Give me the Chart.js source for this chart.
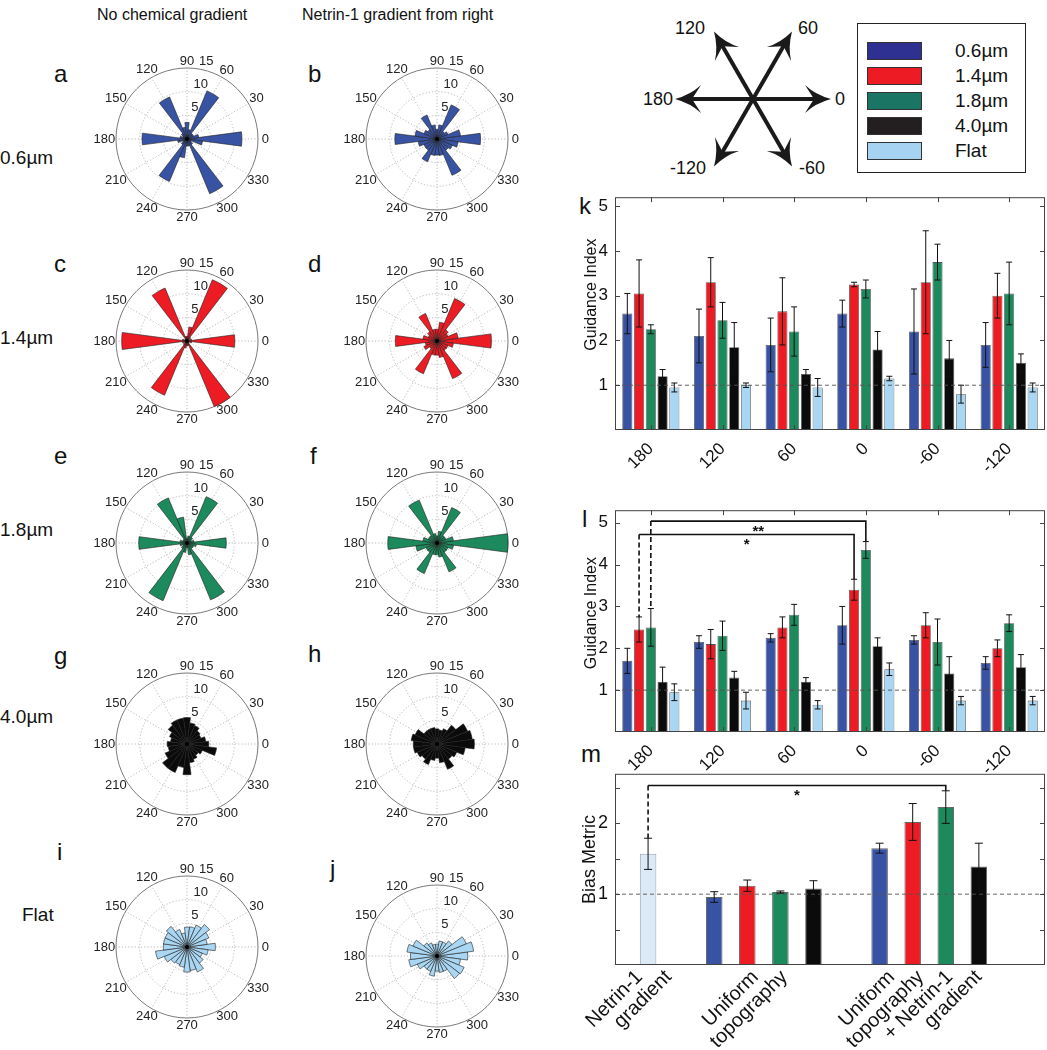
<!DOCTYPE html>
<html><head><meta charset="utf-8">
<script src="https://cdn.jsdelivr.net/npm/chart.js@4.4.1/dist/chart.umd.min.js"></script>
<style>
html,body{margin:0;padding:0;background:#fff;}
#wrap{position:relative;width:1047px;height:1050px;overflow:hidden;font-family:"Liberation Sans",Arial,sans-serif;color:#111;}
.abs{position:absolute;}
.lbl{position:absolute;white-space:nowrap;}
.panel{font-size:24px;}
.row{font-size:19px;}
canvas{position:absolute;}
.legend{position:absolute;left:857px;top:23px;width:169px;height:150px;border:1.5px solid #222;box-sizing:border-box;}
.sw{position:absolute;left:9px;width:55px;height:18px;border:1px solid #333;box-sizing:border-box;}
.lt{position:absolute;left:97px;font-size:19px;line-height:20px;}
</style></head>
<body><div id="wrap">
<div class="lbl" style="left:97px;top:6px;font-size:16px;">No chemical gradient</div>
<div class="lbl" style="left:302px;top:6px;font-size:16px;">Netrin-1 gradient from right</div>
<div class="lbl panel" style="left:54px;top:60px;">a</div>
<div class="lbl panel" style="left:308px;top:60px;">b</div>
<div class="lbl panel" style="left:54px;top:250px;">c</div>
<div class="lbl panel" style="left:308px;top:250px;">d</div>
<div class="lbl panel" style="left:54px;top:442px;">e</div>
<div class="lbl panel" style="left:310px;top:442px;">f</div>
<div class="lbl panel" style="left:54px;top:642px;">g</div>
<div class="lbl panel" style="left:308px;top:640px;">h</div>
<div class="lbl panel" style="left:57px;top:838px;">i</div>
<div class="lbl panel" style="left:330px;top:855px;">j</div>
<div class="lbl panel" style="left:579px;top:192px;">k</div>
<div class="lbl panel" style="left:582px;top:505px;">l</div>
<div class="lbl panel" style="left:581px;top:740px;">m</div>
<div class="lbl row" style="left:0px;top:147px;">0.6µm</div>
<div class="lbl row" style="left:0px;top:327px;">1.4µm</div>
<div class="lbl row" style="left:0px;top:519px;">1.8µm</div>
<div class="lbl row" style="left:0px;top:706px;">4.0µm</div>
<div class="lbl row" style="left:22px;top:904px;">Flat</div>

<svg class="abs" style="left:640px;top:0px;" width="215" height="200" viewBox="640 0 215 200" id="arrows"></svg>

<div class="legend">
 <div class="sw" style="top:18px;background:#2e3192"></div><div class="lt" style="top:17px">0.6µm</div>
 <div class="sw" style="top:43px;background:#ed1c24"></div><div class="lt" style="top:42px">1.4µm</div>
 <div class="sw" style="top:68px;background:#1b7565"></div><div class="lt" style="top:67px">1.8µm</div>
 <div class="sw" style="top:93px;background:#231f20"></div><div class="lt" style="top:92px">4.0µm</div>
 <div class="sw" style="top:118px;background:#a6d3f1"></div><div class="lt" style="top:117px">Flat</div>
</div>
</div>
<script>
// ---------------- DATA ----------------
// Rose histograms: counts per 15° bin, bin centres at 0,15,...,345 degrees (counter-clockwise from east)
const roseBins = [0,15,30,45,60,75,90,105,120,135,150,165,180,195,210,225,240,255,270,285,300,315,330,345];
const roseA = [11.6,2.5,1.5,1.5,11,2,3.5,2.5,9.6,1.5,1,1.5,9.5,2,1,1.5,9.7,4,1.5,1.5,12.5,1.5,1,3.3];
const roseB = [9.2,5,2.5,2,7.8,3,2,3,5.5,2.5,3,4.7,8.9,4,3,3,5.2,3.5,3.4,3.5,8.3,3,3.5,4.5];
const roseC = [10.1,1,0.5,1,14,3,1,1,12.1,0.5,0.5,1,13.8,1,0.5,1,12.4,1.5,1,1,15,0.5,0.5,1];
const roseD = [11.5,4.5,2.5,3,9.7,4,2.5,2.5,6.3,2.5,2,3,8.8,2.5,3,2,7.5,3,3,3.5,8.6,2.5,2.5,3.5];
const roseE = [8.3,1.5,1,1.5,10.6,1.5,1,5.5,10.3,1,1,1.5,10.2,1.5,1,1.5,13.2,2,1,2.5,13,1.5,1.5,2];
const roseF = [15,3.5,2,2,8.1,2.5,1.5,2,9.8,2,2,3,10.4,4.5,2.5,2.5,7,2.5,2.5,3,6.6,2.5,2.5,3.5];
const roseG = [4.6,4,3.2,3.5,4.2,4.5,5.6,5.5,5.5,5,4,3.5,4.2,4,5,6.5,6.5,5,6.5,4,3.5,3,3.5,6.3];
const roseH = [7.9,7.5,7,5,3.5,3,3.2,3.5,3.5,3.5,5,5.5,5,5,4.5,4,4.7,3.5,3,4,5.8,4,4.5,6];
const roseI = [6,4.3,5,6,5,4.3,4.2,3,4,5.5,5,5,5,6.7,5.2,4.3,4,4.3,5.3,5,5.7,4.3,3.5,4.5];
const roseJ = [6.5,7.8,6.7,4,3.2,3.2,2.5,2.5,3,3.5,5.5,6.4,5.6,6,4.5,3.5,3.5,4.3,3.2,3.5,3.5,6,6.2,5];
const roseAngleLabels = [0,30,60,90,120,150,180,210,240,270,300,330];
const roseRadialTicks = [5,10,15];
const roseMax = 15;

// Guidance index bar charts
const directions = ['180','120','60','0','-60','-120'];
const seriesNames = ['0.6µm','1.4µm','1.8µm','4.0µm','Flat'];
const kBlue  = [2.6,2.1,1.9,2.6,2.2,1.9];     const kBlueErr  = [0.45,0.6,0.6,0.3,0.95,0.5];
const kRed   = [3.05,3.3,2.65,3.25,3.3,3.0];  const kRedErr   = [0.75,0.55,0.75,0.05,1.15,0.5];
const kGreen = [2.25,2.45,2.2,3.15,3.75,3.05];const kGreenErr = [0.1,0.4,0.55,0.2,0.4,0.7];
const kBlack = [1.2,1.85,1.25,1.8,1.6,1.5];   const kBlackErr = [0.15,0.55,0.1,0.4,0.4,0.2];
const kFlat  = [0.95,1.0,0.95,1.15,0.8,0.95]; const kFlatErr  = [0.1,0.05,0.2,0.05,0.2,0.1];

const lBlue  = [1.7,2.15,2.25,2.55,2.2,1.65]; const lBlueErr  = [0.3,0.15,0.1,0.45,0.1,0.15];
const lRed   = [2.45,2.1,2.5,3.4,2.55,2.0];   const lRedErr   = [0.3,0.35,0.25,0.25,0.3,0.2];
const lGreen = [2.5,2.3,2.8,4.35,2.15,2.6];   const lGreenErr = [0.45,0.35,0.25,0.2,0.55,0.2];
const lBlack = [1.2,1.3,1.2,2.05,1.4,1.55];   const lBlackErr = [0.35,0.15,0.1,0.2,0.4,0.3];
const lFlat  = [0.95,0.75,0.65,1.5,0.75,0.75];const lFlatErr  = [0.2,0.2,0.1,0.15,0.1,0.1];

// Bias metric
const mPos    = [1,3,4,5,6,8,9,10,11];
const mValues = [1.57,0.96,1.12,1.03,1.08,1.65,2.02,2.23,1.39];
const mErrors = [0.22,0.075,0.08,0.015,0.11,0.07,0.26,0.23,0.33];
const mGroupTicks = [1,4.5,9.5];
const mGroupLabels = [['Netrin-1','gradient'],['Uniform','topography'],['Uniform','topography','+ Netrin-1','gradient']];

// ---------------- STYLE ----------------
const FONT = '"Liberation Sans", Arial, sans-serif';
const C_BLUE='#3953a4', C_RED='#ed1c24', C_GREEN='#1c8a5c', C_BLACK='#0b0b0b', C_FLAT='#a9d6f2', C_NETRIN='#dce9f6';
const seriesColors = [C_BLUE,C_RED,C_GREEN,C_BLACK,C_FLAT];

Chart.defaults.font.family = FONT;
Chart.defaults.color = '#111';

function mkCanvas(left, top, w, h){
  const c = document.createElement('canvas');
  c.width = w; c.height = h;
  c.style.left = left+'px'; c.style.top = top+'px';
  c.style.width = w+'px'; c.style.height = h+'px';
  document.getElementById('wrap').appendChild(c);
  return c;
}

// ---------------- ROSE PLOTS ----------------
const roseGrid = {
  id:'roseGrid',
  beforeDatasetsDraw(chart){
    const s = chart.scales.r, c = chart.ctx, cx = s.xCenter, cy = s.yCenter;
    const R = s.getDistanceFromCenterForValue(roseMax);
    c.save();
    c.strokeStyle = '#a8a8a8'; c.lineWidth = 0.8; c.setLineDash([1.2,2]);
    for (const a of roseAngleLabels){
      const t = a*Math.PI/180;
      c.beginPath(); c.moveTo(cx,cy); c.lineTo(cx+R*Math.cos(t), cy-R*Math.sin(t)); c.stroke();
    }
    for (const v of roseRadialTicks){
      if (v===roseMax) continue;
      c.beginPath(); c.arc(cx,cy,s.getDistanceFromCenterForValue(v),0,2*Math.PI); c.stroke();
    }
    c.setLineDash([]); c.strokeStyle='#7a7a7a'; c.lineWidth=1;
    c.beginPath(); c.arc(cx,cy,R,0,2*Math.PI); c.stroke();
    c.restore();
  },
  afterDatasetsDraw(chart){
    const s = chart.scales.r, c = chart.ctx, cx = s.xCenter, cy = s.yCenter;
    const R = s.getDistanceFromCenterForValue(roseMax);
    c.save();
    c.fillStyle = '#222'; c.font = '13px '+FONT; c.textAlign='center'; c.textBaseline='middle';
    for (const a of roseAngleLabels){
      const t = a*Math.PI/180, txt = String(a);
      const w = c.measureText(txt).width;
      const rr = R + 7 + Math.abs(Math.cos(t))*Math.max(0, w/2-3)*0.6;
      c.fillText(txt, cx+rr*Math.cos(t), cy-rr*Math.sin(t));
    }
    const ta = 76*Math.PI/180;
    for (const v of roseRadialTicks){
      const rr = s.getDistanceFromCenterForValue(v) + 9;
      c.fillText(String(v), cx+rr*Math.cos(ta), cy-rr*Math.sin(ta));
    }
    c.fillStyle='#000'; c.beginPath(); c.arc(cx,cy,2,0,2*Math.PI); c.fill();
    c.restore();
  }
};

function makeRose(cx, cy, values, color){
  const n = values.length;
  const cw = []; for (let i=0;i<n;i++) cw.push(values[(n-i)%n]);
  const labels = []; for (let i=0;i<n;i++) labels.push(String(roseBins[(n-i)%n]));
  const cv = mkCanvas(cx-100, cy-100, 200, 200);
  new Chart(cv, {
    type:'polarArea',
    data:{labels, datasets:[{data:cw, backgroundColor:color, borderColor:'#1e1e1e', borderWidth:0.6}]},
    options:{
      responsive:false, animation:false, events:[],
      layout:{padding:29},
      plugins:{legend:{display:false}, tooltip:{enabled:false}},
      scales:{r:{min:0,max:roseMax,startAngle:82.5,
        ticks:{display:false}, grid:{display:false}, angleLines:{display:false}, pointLabels:{display:false}}}
    },
    plugins:[roseGrid]
  });
}
makeRose(187,139,roseA,C_BLUE);
makeRose(437,139,roseB,C_BLUE);
makeRose(187,341,roseC,C_RED);
makeRose(437,341,roseD,C_RED);
makeRose(187,543,roseE,C_GREEN);
makeRose(437,543,roseF,C_GREEN);
makeRose(187,744,roseG,C_BLACK);
makeRose(437,744,roseH,C_BLACK);
makeRose(187,947,roseI,C_FLAT);
makeRose(437,956,roseJ,C_FLAT);

// ---------------- BAR CHARTS ----------------
function valOf(d){ return (typeof d === 'object') ? d.y : d; }
const matFrame = {
  id:'matFrame',
  afterDatasetsDraw(chart, args, opts){
    const c = chart.ctx, a = chart.chartArea, ys = chart.scales.y, xs = chart.scales.x;
    c.save();
    // error bars
    chart.data.datasets.forEach((ds, di)=>{
      if (!ds.errors) return;
      const meta = chart.getDatasetMeta(di);
      meta.data.forEach((el, i)=>{
        const v = valOf(ds.data[i]), e = ds.errors[i];
        const y1 = ys.getPixelForValue(v+e), y2 = ys.getPixelForValue(v-e);
        const cap = opts.cap || 3;
        c.strokeStyle = '#111'; c.lineWidth = 1;
        c.beginPath();
        c.moveTo(el.x, y1); c.lineTo(el.x, y2);
        c.moveTo(el.x-cap, y1); c.lineTo(el.x+cap, y1);
        c.moveTo(el.x-cap, y2); c.lineTo(el.x+cap, y2);
        c.stroke();
      });
    });
    // reference dashed line at 1
    const y1 = ys.getPixelForValue(1);
    c.strokeStyle = '#555'; c.lineWidth = 0.9; c.setLineDash([4,3]);
    c.beginPath(); c.moveTo(a.left, y1); c.lineTo(a.right, y1); c.stroke();
    c.setLineDash([]);
    // significance brackets
    (opts.brackets||[]).forEach(b=>{
      const e1 = chart.getDatasetMeta(b.from[0]).data[b.from[1]];
      const e2 = chart.getDatasetMeta(b.to[0]).data[b.to[1]];
      const d1 = chart.data.datasets[b.from[0]], d2 = chart.data.datasets[b.to[0]];
      const v1 = valOf(d1.data[b.from[1]]) + d1.errors[b.from[1]];
      const v2 = valOf(d2.data[b.to[1]]) + d2.errors[b.to[1]];
      const yb = ys.getPixelForValue(b.level);
      c.strokeStyle='#111'; c.lineWidth=1.6;
      c.beginPath(); c.moveTo(e1.x, yb); c.lineTo(e2.x, yb); c.lineTo(e2.x, ys.getPixelForValue(v2)); c.stroke();
      c.setLineDash([5,3]);
      c.beginPath(); c.moveTo(e1.x, yb); c.lineTo(e1.x, ys.getPixelForValue(v1)); c.stroke();
      c.setLineDash([]);
      c.fillStyle='#111'; c.font='bold 15px '+FONT; c.textAlign='center'; c.textBaseline='top';
      c.fillText(b.label, (e1.x+e2.x)/2, yb+3);
    });
    // frame + inward ticks
    c.strokeStyle = '#444'; c.lineWidth = 1;
    c.strokeRect(a.left+0.5, a.top+0.5, a.right-a.left-1, a.bottom-a.top-1);
    const tl = 5;
    c.beginPath();
    ys.ticks.forEach(t=>{
      const y = Math.round(ys.getPixelForValue(t.value))+0.5;
      if (y <= a.top+1 || y >= a.bottom-1) return;
      c.moveTo(a.left, y); c.lineTo(a.left+tl, y);
      c.moveTo(a.right, y); c.lineTo(a.right-tl, y);
    });
    if (opts.xticks){
      for (let i=0;i<xs.ticks.length;i++){
        const x = Math.round(xs.getPixelForTick(i))+0.5;
        c.moveTo(x, a.bottom); c.lineTo(x, a.bottom-tl);
        c.moveTo(x, a.top); c.lineTo(x, a.top+tl);
      }
    }
    c.stroke();
    // multi-line rotated group labels (panel m)
    if (opts.groupLabels){
      const g = opts.groupLabels;
      c.fillStyle='#111'; c.font = g.size+'px '+FONT; c.textAlign='right'; c.textBaseline='middle';
      g.ticks.forEach((tv, gi)=>{
        const lines = g.labels[gi], n = lines.length, px = xs.getPixelForValue(tv);
        lines.forEach((ln, k)=>{
          c.save();
          c.translate(px + g.dx + (k-(n-1)/2)*g.step, a.bottom + g.dy);
          c.rotate(-Math.PI/4);
          c.fillText(ln, 0, 0);
          c.restore();
        });
      });
    }
    // y axis title
    if (opts.ytitle){
      c.fillStyle='#111'; c.font=opts.ytitle.size+'px '+FONT; c.textAlign='center'; c.textBaseline='middle';
      c.translate(opts.ytitle.x, (a.top+a.bottom)/2 + opts.ytitle.dy);
      c.rotate(-Math.PI/2);
      c.fillText(opts.ytitle.text, 0, 0);
    }
    c.restore();
  }
};

function guidanceChart(left, top, w, h, xh, vals, errs, brackets, ymax, tdy){
  const cv = mkCanvas(left, top, w, h);
  return new Chart(cv, {
    type:'bar',
    data:{labels:directions, datasets: vals.map((v,i)=>({
      label:seriesNames[i], data:v, errors:errs[i], backgroundColor:seriesColors[i],
      borderColor:'#555', borderWidth:0.8, categoryPercentage:0.82, barPercentage:0.86
    }))},
    options:{
      responsive:false, animation:false, events:[],
      layout:{padding:{top:10,right:2,left:0,bottom:0}},
      plugins:{legend:{display:false}, tooltip:{enabled:false},
        matFrame:{brackets, cap:3, xticks:true, ytitle:{text:'Guidance Index', x:32, dy:tdy, size:16}}},
      scales:{
        x:{grid:{display:false}, border:{display:false},
           ticks:{minRotation:45,maxRotation:45,font:{size:17},color:'#111',padding:1},
           afterFit:(s)=>{s.height=xh;}},
        y:{min:0,max:ymax, grid:{display:false,drawTicks:false}, border:{display:false},
           ticks:{stepSize:1,autoSkip:false,includeBounds:false,font:{size:17},color:'#111',padding:7,
             callback:(v)=> (v>=1 && v<=5 ? String(v):'')},
           afterFit:(s)=>{s.width=55;}}
      }
    },
    plugins:[matFrame]
  });
}
guidanceChart(560,180,487,300,50,[kBlue,kRed,kGreen,kBlack,kFlat],[kBlueErr,kRedErr,kGreenErr,kBlackErr,kFlatErr],[],5.2,-19);
guidanceChart(560,493,487,280,41,[lBlue,lRed,lGreen,lBlack,lFlat],[lBlueErr,lRedErr,lGreenErr,lBlackErr,lFlatErr],
  [{from:[2,0],to:[2,3],level:5.04,label:'**'},{from:[1,0],to:[1,3],level:4.72,label:'*'}],5.3,-8);

// Bias metric
(function(){
  const cv = mkCanvas(560,756,487,294);
  const mColors = [C_NETRIN,C_BLUE,C_RED,C_GREEN,C_BLACK,C_BLUE,C_RED,C_GREEN,C_BLACK];
  const mBorders = ['#9aa3ad','#666','#666','#666','#666','#666','#666','#666','#666'];
  new Chart(cv, {
    type:'bar',
    data:{datasets:[{data:mPos.map((x,i)=>({x, y:mValues[i]})), errors:mErrors,
      backgroundColor:mColors, borderColor:mBorders, borderWidth:1, barPercentage:0.5, categoryPercentage:1}]},
    options:{
      responsive:false, animation:false, events:[],
      layout:{padding:{top:10,right:2,left:0,bottom:0}},
      plugins:{legend:{display:false}, tooltip:{enabled:false},
        matFrame:{cap:4, brackets:[{from:[0,0],to:[0,7],level:2.535,label:'*'}],
          ytitle:{text:'Bias Metric', x:30, dy:-10, size:18},
          groupLabels:{ticks:mGroupTicks, labels:mGroupLabels, size:20, dx:6, step:29, dy:9}}},
      scales:{
        x:{type:'linear',min:0,max:13,offset:false, grid:{display:false}, border:{display:false},
           afterBuildTicks:(s)=>{ s.ticks = mGroupTicks.map(v=>({value:v})); },
           ticks:{display:false},
           afterFit:(s)=>{s.height=85;}},
        y:{min:0,max:2.7, grid:{display:false,drawTicks:false}, border:{display:false},
           ticks:{stepSize:0.5,autoSkip:false,includeBounds:false,font:{size:18},color:'#111',padding:7, callback:(v)=> (v===1||v===2 ? String(v):'')},
           afterFit:(s)=>{s.width=55;}}
      }
    },
    plugins:[matFrame]
  });
})();

// ---------------- DIRECTION ARROWS ----------------
(function(){
  const svg = document.getElementById('arrows');
  const NS = 'http://www.w3.org/2000/svg';
  const cx = 753, cy = 99, L = 78;
  const arrowDirs = [0,60,120,180,-120,-60];
  const labelPos = {0:[840,99],60:[808,28],120:[690,28],180:[658,99],'-120':[688,168],'-60':[812,168]};
  arrowDirs.forEach(d=>{
    const t = d*Math.PI/180, ux = Math.cos(t), uy = -Math.sin(t), px = -uy, py = ux;
    const tx = cx+L*ux, ty = cy+L*uy;
    const ln = document.createElementNS(NS,'line');
    ln.setAttribute('x1', cx); ln.setAttribute('y1', cy);
    ln.setAttribute('x2', cx+(L-14)*ux); ln.setAttribute('y2', cy+(L-14)*uy);
    ln.setAttribute('stroke','#1a1a1a'); ln.setAttribute('stroke-width','4');
    svg.appendChild(ln);
    const hl = 26, hw = 14, notch = 17;
    const bx = tx-hl*ux, by = ty-hl*uy;
    const nx = tx-notch*ux, ny = ty-notch*uy;
    const p = document.createElementNS(NS,'path');
    p.setAttribute('d', `M${tx},${ty} Q${tx-0.6*hl*ux+0.3*hw*px},${ty-0.6*hl*uy+0.3*hw*py} ${bx+hw*px},${by+hw*py} L${nx},${ny} L${bx-hw*px},${by-hw*py} Q${tx-0.6*hl*ux-0.3*hw*px},${ty-0.6*hl*uy-0.3*hw*py} ${tx},${ty} Z`);
    p.setAttribute('fill','#1a1a1a');
    svg.appendChild(p);
    const tp = labelPos[String(d)];
    const tx2 = document.createElementNS(NS,'text');
    tx2.setAttribute('x', tp[0]); tx2.setAttribute('y', tp[1]);
    tx2.setAttribute('text-anchor','middle'); tx2.setAttribute('dominant-baseline','central');
    tx2.setAttribute('font-size','18'); tx2.setAttribute('font-family',FONT); tx2.setAttribute('fill','#111');
    tx2.textContent = String(d);
    svg.appendChild(tx2);
  });
})();
</script>
</body></html>
